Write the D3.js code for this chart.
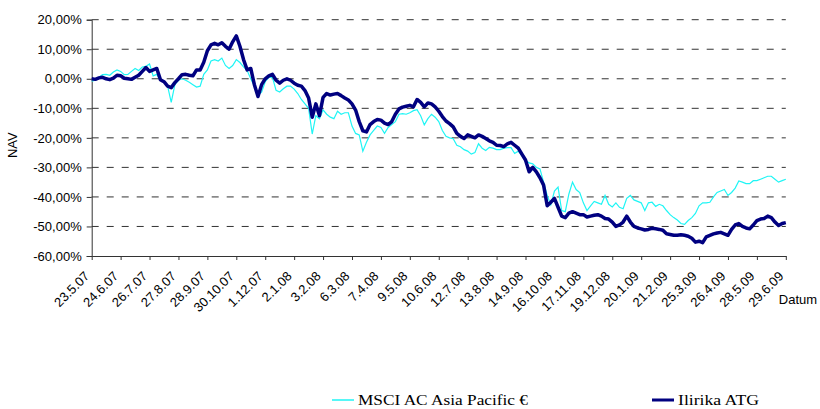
<!DOCTYPE html>
<html lang="de">
<head>
<meta charset="UTF-8">
<title>Ilirika ATG vs MSCI AC Asia Pacific</title>
<script src="https://d3js.org/d3.v7.min.js"></script>
<style>
    body { margin: 0; background: #fff; }
    .axis text { font-family: "Liberation Sans", Arial, sans-serif; font-size: 13px; fill: #000; }
    .axis path, .axis line { stroke: #333; }
    .legend text { font-family: "Liberation Serif", "Times New Roman", serif; font-size: 15px; fill: #000; }
</style>
</head>
<body>
<div id="chart"></div>
<script>
    // tick labels on the date axis
    const dates = ["23.5.07", "24.6.07", "26.7.07", "27.8.07", "28.9.07", "30.10.07", "1.12.07",
        "2.1.08", "3.2.08", "6.3.08", "7.4.08", "9.5.08", "10.6.08", "12.7.08", "13.8.08",
        "14.9.08", "16.10.08", "17.11.08", "19.12.08", "20.1.09", "21.2.09", "25.3.09",
        "26.4.09", "28.5.09", "29.6.09"];

    // performance in %, 8 samples per date interval
    const ilirika = [
        0, -0.2, 0.3, 0.5, 0, -0.3, 0.2, 1.2,
        1, 0.2, 0, -0.2, 0.5, 1.2, 2.5, 3.8,
        2.5, 3, 3.5, -0.3, -1, -2.5, -3, -1.3,
        0, 1.4, 1.5, 1.2, 1, 3, 3, 5.6,
        9.5, 11.5, 12, 11.5, 12.2, 11, 10, 12.5,
        14.5, 11, 6.5, 3, 3.5, -2, -6, -2,
        0, 1, 1.5, -0.5, -1.5, -0.5, 0, -0.5,
        -1.5, -2.2, -2.5, -4, -6.5, -13, -8.5, -12.5,
        -6.3, -5, -5.5, -5.2, -5, -5.7, -6.5, -7.2,
        -8.5, -10.6, -14.5, -17.6, -18, -15.5, -14.5, -13.8,
        -14, -15, -15.5, -14.5, -12, -10.2, -9.6, -9.3,
        -9, -9.5, -7, -8, -9.5, -8.2, -8.5, -9.5,
        -11, -12.8, -14.3, -15.2, -16.3, -18.5, -19.5, -20.2,
        -19, -19.5, -20, -19, -19.5, -20.2, -21, -21.5,
        -22.5, -22.6, -23, -22, -21.5, -22.5, -23.5, -25.5,
        -27.5, -31.5, -30, -31.5, -33.5, -36, -43, -41.8,
        -40.5, -43.5, -46.5, -47, -45.5, -45, -45.5, -46,
        -46, -46.8, -46.5, -46.2, -46, -46.5, -47.3, -47.5,
        -48.5, -50, -49.5, -48.5, -46.5, -48.5, -50, -50.5,
        -50.8, -51.2, -51, -50.6, -50.8, -51, -51.3, -52.5,
        -52.7, -53, -53, -52.8, -53, -53.3, -54, -55.3,
        -55, -55.5, -53.5, -53, -52.5, -52.2, -52, -52.5,
        -53, -51, -49.5, -49, -50, -50.5, -50.8, -49.5,
        -48, -47.5, -47.3, -46.5, -47, -48.5, -49.7, -49,
        -48.7
    ];
    const msci = [
        -0.8, -0.5, 0.5, 1.4, 1.5, 1.2, 2.3, 3,
        2.5, 1.4, 1.5, 2.5, 3.5, 2.8, 4, 4.2,
        5, 1, 1.5, -0.5, -1, -2.5, -8, -2,
        -0.5, 0, -0.5, -1.2, -2, -2.8, -2.5, 1.5,
        3, 6, 6.5, 6, 7, 4.5, 3.5, 4.5,
        6.5, 5.5, 4, 2.8, 0, -2.5, -5.5, -4.5,
        -1, 0.5, 0.5, -3.9, -4.5, -3.4, -2.5, -2.5,
        -3.5, -5, -7, -8.5, -10, -18.7, -12.5, -13.5,
        -10.5, -12, -13, -13.5, -11, -12, -11.5, -11.5,
        -16, -18.5, -19, -24.5, -21.5, -19, -17.5, -16,
        -16.5, -18.5, -16.5, -15.5, -14.5, -12, -11.8, -12,
        -11.5, -10.8, -10.5, -12.5, -15.6, -13.5, -12, -13,
        -14.5, -17.5, -19.5, -20, -20.3, -22.5, -23, -24,
        -24.5, -25.5, -25, -22, -23.5, -24.3, -23.2, -23.5,
        -24, -24, -23.5, -23.3, -23.3, -25.3, -24.5, -26,
        -27.5, -28.5, -28.8, -30, -30.5, -35, -39.5, -42.7,
        -38, -36.7, -44.6, -45, -39, -35, -37.5, -38.5,
        -42, -44.6, -43, -41.5, -42, -42.5, -39.5, -42.5,
        -43.4, -42, -43.5, -44, -40.5, -39.5, -41, -41.5,
        -42, -44.6, -42, -41.8, -43.2, -42.5, -43, -44.6,
        -46, -47, -47.8, -49, -49.3, -48, -47, -45.6,
        -43, -42, -42, -41.8, -40, -38.5, -38, -37.5,
        -39.5, -38.5, -37, -34.6, -35, -35.5, -35.5, -34.5,
        -34.5, -34, -33.5, -33, -33, -34, -35, -34.5,
        -34
    ];
    const yTicks = [-60, -50, -40, -30, -20, -10, 0, 10, 20];

    const totalW = 820, totalH = 409;
    const margin = { top: 19.7, left: 91.7, right: 34.2, bottom: 153 };
    const width = totalW - margin.left - margin.right;
    const height = totalH - margin.top - margin.bottom;

    const svg = d3.select("#chart")
        .append("svg")
        .attr("width", totalW)
        .attr("height", totalH);

    const chart = svg.append("g")
        .attr("transform", `translate(${margin.left},${margin.top})`);

    const x = d3.scaleLinear().domain([0, ilirika.length - 1]).range([0, width]);
    const xDate = d3.scalePoint().domain(dates).range([0, width]);
    const y = d3.scaleLinear().domain([-60, 20]).range([height, 0]);

    // dashed grid
    chart.append("g")
        .selectAll("line")
        .data(yTicks.filter(d => d > -60))
        .join("line")
        .attr("x1", 0)
        .attr("x2", width)
        .attr("y1", d => y(d))
        .attr("y2", d => y(d))
        .attr("stroke", "#333")
        .attr("stroke-dasharray", "7,8");

    // y axis
    chart.append("g")
        .attr("class", "axis")
        .call(d3.axisLeft(y).tickValues(yTicks).tickSize(5).tickPadding(5)
            .tickFormat(d => d.toFixed(2).replace(".", ",") + "%"));

    // x axis
    const xAxis = chart.append("g")
        .attr("class", "axis")
        .attr("transform", `translate(0,${height})`)
        .call(d3.axisBottom(xDate).tickSize(4).tickSizeOuter(0));
    xAxis.selectAll("text")
        .attr("x", 0)
        .attr("y", 0)
        .attr("dy", 0)
        .attr("text-anchor", "end")
        .attr("transform", "translate(-2,21) rotate(-45)");

    chart.append("text")
        .attr("transform", `translate(-75,${y(-22.5)}) rotate(-90)`)
        .attr("text-anchor", "middle")
        .style("font-family", "Liberation Sans, Arial, sans-serif")
        .style("font-size", "13px")
        .text("NAV");

    chart.append("text")
        .attr("x", width - 7)
        .attr("y", height + 48)
        .style("font-family", "Liberation Sans, Arial, sans-serif")
        .style("font-size", "13px")
        .text("Datum");

    // lines
    const line = d3.line()
        .x((d, i) => x(i))
        .y(d => y(d));

    chart.append("path")
        .datum(msci)
        .attr("fill", "none")
        .attr("stroke", "#1ff5f5")
        .attr("stroke-width", 1.2)
        .attr("d", line);

    chart.append("path")
        .datum(ilirika)
        .attr("fill", "none")
        .attr("stroke", "#000080")
        .attr("stroke-width", 3.5)
        .attr("stroke-linejoin", "round")
        .attr("d", line);

    // legend
    const legend = svg.append("g").attr("class", "legend");
    const items = [
        { name: "MSCI AC Asia Pacific €", color: "#1ff5f5", w: 1.5, x: 332, len: 170 },
        { name: "Ilirika ATG", color: "#000080", w: 3, x: 652, len: 81 }
    ];
    items.forEach(it => {
        legend.append("line")
            .attr("x1", it.x).attr("x2", it.x + 22)
            .attr("y1", 400).attr("y2", 400)
            .attr("stroke", it.color)
            .attr("stroke-width", it.w);
        legend.append("text")
            .attr("x", it.x + 26)
            .attr("y", 405)
            .attr("textLength", it.len)
            .attr("lengthAdjust", "spacingAndGlyphs")
            .text(it.name);
    });
</script>
</body>
</html>
